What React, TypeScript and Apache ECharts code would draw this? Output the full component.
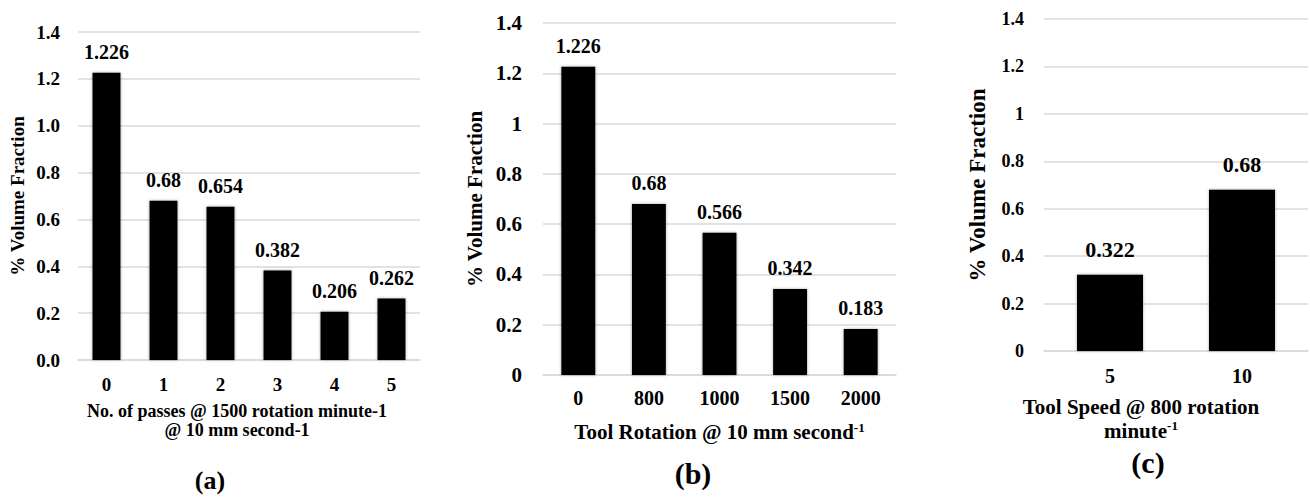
import React, { useEffect, useRef } from "react";
import * as echarts from "echarts";

const catsA = ["0", "1", "2", "3", "4", "5"];
const valsA = [1.226, 0.68, 0.654, 0.382, 0.206, 0.262];
const catsB = ["0", "800", "1000", "1500", "2000"];
const valsB = [1.226, 0.68, 0.566, 0.342, 0.183];
const catsC = ["5", "10"];
const valsC = [0.322, 0.68];
const yMax = 1.4;
const yStep = 0.2;
const yTitle = "% Volume Fraction";
const xTitleA = "No. of passes @ 1500 rotation minute-1\n@ 10 mm second-1";
const xTitleB = "Tool Rotation @ 10 mm second{sup|-1}";
const xTitleC = "Tool Speed @ 800 rotation\nminute{sup|-1}";
const panelLabels = ["(a)", "(b)", "(c)"];

const FONT = "Liberation Serif";
const GRID_COLOR = "#d9d9d9";

function yAxisCfg(gridIndex: number, fs: number, margin: number, titleFs: number, gap: number, fixed1: boolean) {
  return {
    type: "value",
    gridIndex,
    min: 0,
    max: yMax,
    interval: yStep,
    axisLine: { show: false },
    axisTick: { show: false },
    splitLine: { lineStyle: { color: GRID_COLOR, width: 1.5 } },
    axisLabel: {
      margin,
      fontFamily: FONT,
      fontWeight: "bold",
      fontSize: fs,
      color: "#000",
      formatter: fixed1 ? (v: number) => v.toFixed(1) : undefined,
    },
    name: yTitle,
    nameLocation: "middle",
    nameGap: gap,
    nameTextStyle: { fontFamily: FONT, fontWeight: "bold", fontSize: titleFs, color: "#000" },
  };
}

function xAxisCfg(gridIndex: number, data: string[], fs: number, margin: number, name: string, nameFs: number, gap: number, lh: number, padRight: number) {
  return {
    type: "category",
    gridIndex,
    data,
    axisLine: { lineStyle: { color: GRID_COLOR, width: 1.5 } },
    axisTick: { show: false },
    axisLabel: { margin, fontFamily: FONT, fontWeight: "bold", fontSize: fs, color: "#000" },
    name,
    nameLocation: "middle",
    nameGap: gap,
    nameTextStyle: {
      fontFamily: FONT,
      fontWeight: "bold",
      fontSize: nameFs,
      lineHeight: lh,
      color: "#000",
      padding: [0, padRight, 0, 0],
      rich: {
        sup: { fontFamily: FONT, fontWeight: "bold", fontSize: Math.round(nameFs * 0.6), verticalAlign: "top", color: "#000" },
      },
    },
  };
}

function barSeries(idx: number, data: number[], bw: string, fs: number, dist: number) {
  return {
    type: "bar",
    xAxisIndex: idx,
    yAxisIndex: idx,
    data,
    barWidth: bw,
    itemStyle: { color: "#000", shadowBlur: 3, shadowColor: "rgba(0,0,0,0.35)" },
    label: {
      show: true,
      position: "top",
      distance: dist,
      fontFamily: FONT,
      fontWeight: "bold",
      fontSize: fs,
      color: "#000",
    },
  };
}

export default function App() {
  const ref = useRef<HTMLDivElement>(null);
  useEffect(() => {
    if (!ref.current) return;
    const chart = echarts.init(ref.current, null, { renderer: "svg" });
    chart.setOption({
      animation: false,
      backgroundColor: "#fff",
      textStyle: { fontFamily: FONT },
      grid: [
        { left: 78, top: 32, width: 342, height: 328, outerBoundsMode: "none", containLabel: false },
        { left: 543, top: 23, width: 353, height: 352, outerBoundsMode: "none", containLabel: false },
        { left: 1044, top: 19, width: 264, height: 332, outerBoundsMode: "none", containLabel: false },
      ],
      xAxis: [
        xAxisCfg(0, catsA, 19, 15, xTitleA, 18, 41, 19, 24),
        xAxisCfg(1, catsB, 20, 13, xTitleB, 21, 46, 22, 0),
        xAxisCfg(2, catsC, 20, 15, xTitleC, 21, 44, 24, 70),
      ],
      yAxis: [
        yAxisCfg(0, 19, 18, 19, 51, true),
        yAxisCfg(1, 21, 21, 21, 58, false),
        yAxisCfg(2, 18, 20, 23, 55, false),
      ],
      series: [
        barSeries(0, valsA, "49%", 20, 11),
        barSeries(1, valsB, "48%", 20, 11),
        barSeries(2, valsC, "50%", 22, 14),
      ],
      graphic: [
        { type: "text", x: 210, y: 480, style: { text: panelLabels[0], fontFamily: FONT, fontWeight: "bold", fontSize: 26, fill: "#000", textAlign: "center", textVerticalAlign: "middle" } },
        { type: "text", x: 693, y: 473, style: { text: panelLabels[1], fontFamily: FONT, fontWeight: "bold", fontSize: 30, fill: "#000", textAlign: "center", textVerticalAlign: "middle" } },
        { type: "text", x: 1148, y: 462, style: { text: panelLabels[2], fontFamily: FONT, fontWeight: "bold", fontSize: 30, fill: "#000", textAlign: "center", textVerticalAlign: "middle" } },
      ],
    });
    return () => chart.dispose();
  }, []);
  return <div ref={ref} style={{ position: "absolute", left: 0, top: 0, width: 1310, height: 497 }} />;
}
